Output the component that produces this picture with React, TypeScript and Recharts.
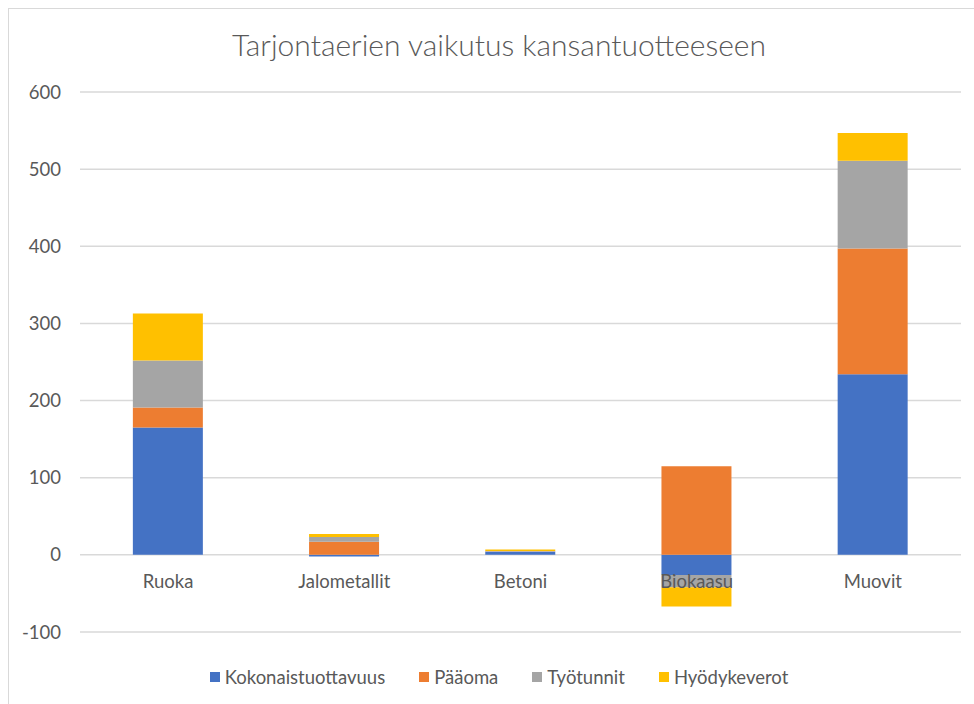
import { BarChart, Bar, XAxis, YAxis, CartesianGrid } from 'recharts';

const categories = ['Ruoka', 'Jalometallit', 'Betoni', 'Biokaasu', 'Muovit'];
const kokonaistuottavuus = [165, -2, 4, -26, 234];
const paaoma = [26, 17, 0.5, 115, 163];
const tyotunnit = [61, 6, 0.5, -16, 114];
const hyodykeverot = [61, 4, 2, -25, 36];
const yTicks = [-100, 0, 100, 200, 300, 400, 500, 600];

const series = [
  { key: 'kokonaistuottavuus', name: 'Kokonaistuottavuus', color: '#4472C4' },
  { key: 'paaoma', name: 'Pääoma', color: '#ED7D31' },
  { key: 'tyotunnit', name: 'Työtunnit', color: '#A5A5A5' },
  { key: 'hyodykeverot', name: 'Hyödykeverot', color: '#FFC000' },
];

const data = categories.map((c, i) => ({
  name: c,
  kokonaistuottavuus: kokonaistuottavuus[i],
  paaoma: paaoma[i],
  tyotunnit: tyotunnit[i],
  hyodykeverot: hyodykeverot[i],
}));

const W = 974;
const H = 704;
const xAxisH = 30;
const margin = { top: 92, right: 13, left: 0, bottom: 72 - xAxisH };
const plotH = H - margin.top - margin.bottom - xAxisH;
const yMin = -100;
const yMax = 600;
// distance from plot bottom up to the zero line
const zeroShift = (plotH * (0 - yMin)) / (yMax - yMin);

const FONT = 'Lato, "Open Sans", sans-serif';
const TEXT = '#595959';
const FS = 18.5;

const CategoryTick = ({ x, y, payload }: any) => (
  <text x={x} y={y - zeroShift + 33} textAnchor="middle" fill={TEXT} fontSize={FS} fontFamily={FONT}>
    {payload.value}
  </text>
);

function ChartLegend() {
  return (
    <div style={{ position: 'absolute', left: 0, width: W, top: 666, display: 'flex', justifyContent: 'center', gap: 34, fontFamily: FONT, fontSize: FS, color: TEXT, paddingLeft: 24, boxSizing: 'border-box' }}>
      {series.map(s => (
        <div key={s.key} style={{ display: 'flex', alignItems: 'center', gap: 5, height: 22 }}>
          <span style={{ width: 10, height: 10, background: s.color, display: 'inline-block' }} />
          <span>{s.name}</span>
        </div>
      ))}
    </div>
  );
}

export default function App() {
  return (
    <div style={{ position: 'absolute', left: 0, top: 0, width: W, height: H, background: '#fff' }}>
      <div style={{ position: 'absolute', left: 8, top: 8, right: 0, bottom: 0, borderLeft: '1.5px solid #d9d9d9', borderTop: '1.5px solid #d9d9d9' }} />
      <div style={{ position: 'absolute', left: 0, width: W, top: 26, textAlign: 'center', fontFamily: FONT, fontWeight: 300, fontSize: 30, color: TEXT, paddingLeft: 24, boxSizing: 'border-box' }}>
        Tarjontaerien vaikutus kansantuotteeseen
      </div>
      <BarChart width={W} height={H} data={data} margin={margin} stackOffset="sign" barCategoryGap="30%" style={{ position: 'absolute', left: 0, top: 0 }}>
        <CartesianGrid vertical={false} stroke="#d9d9d9" strokeWidth={1.5} />
        <XAxis dataKey="name" height={xAxisH} axisLine={false} tickLine={false} tickSize={0} tickMargin={0} tick={<CategoryTick />} interval={0} />
        <YAxis
          domain={[yMin, yMax]}
          ticks={yTicks}
          width={80}
          axisLine={false}
          tickLine={false}
          tickSize={0}
          tickMargin={19}
          tick={{ fill: TEXT, fontSize: FS, fontFamily: FONT }}
        />
        {series.map(s => (
          <Bar key={s.key} dataKey={s.key} name={s.name} stackId="a" fill={s.color} isAnimationActive={false} />
        ))}
      </BarChart>
      <ChartLegend />
    </div>
  );
}
